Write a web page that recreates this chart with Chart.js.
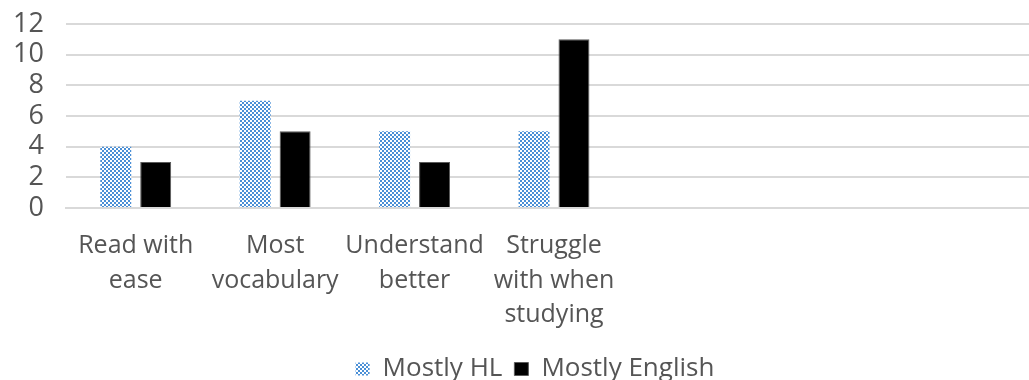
<!DOCTYPE html>
<html>
<head>
<meta charset="utf-8">
<script src="https://cdn.jsdelivr.net/npm/chart.js@4/dist/chart.umd.min.js"></script>
<style>
html, body { margin:0; padding:0; background:#fff; overflow:hidden; }
#wrap { width:1100px; height:380px; }
</style>
</head>
<body>
<div id="wrap"><canvas id="chart" width="1100" height="380"></canvas></div>
<script>
// chart data
var categories = [['Read with', 'ease'], ['Most', 'vocabulary'], ['Understand', 'better'], ['Struggle', 'with when', 'studying'], '', '', ''];
var mostlyHL = [4, 7, 5, 5, null, null, null];
var mostlyEnglish = [3, 5, 3, 11, null, null, null];
var yTicks = [0, 2, 4, 6, 8, 10, 12];

function checker(){
	var c = document.createElement('canvas');
	c.width = 4; c.height = 4;
	var g = c.getContext('2d');
	g.fillStyle = '#ffffff';
	g.fillRect(0, 0, 4, 4);
	g.fillStyle = '#4a8fd6';
	g.fillRect(0, 0, 2, 2);
	g.fillRect(2, 2, 2, 2);
	return g.createPattern(c, 'repeat');
}

// legend sits a bit right of the plot centre, like the original
var legendShift = {
	id: 'legendShift',
	afterLayout: function(chart){
		chart.legend.left += 14;
		chart.legend.right += 14;
	}
};

var font = '"Open Sans", sans-serif';
var textColor = '#555555';
var ctx = document.getElementById('chart').getContext('2d');
var hlPattern = checker();

new Chart(ctx, {
	type: 'bar',
	data: {
		labels: categories,
		datasets: [{
			label: 'Mostly HL',
			data: mostlyHL,
			backgroundColor: hlPattern,
			borderWidth: 0
		}, {
			label: 'Mostly English',
			data: mostlyEnglish,
			backgroundColor: '#000000',
			borderColor: '#5a5a5a',
			borderWidth: 1
		}]
	},
	plugins: [legendShift],
	options: {
		responsive: false,
		animation: false,
		categoryPercentage: 0.573,
		barPercentage: 0.775,
		layout: { padding: { top: 24, right: 58, left: 0, bottom: -12 } },
		plugins: {
			tooltip: { enabled: false },
			legend: {
				position: 'bottom',
				labels: {
					color: textColor,
					font: { family: font, size: 26 },
					boxWidth: 14,
					boxHeight: 13,
					padding: 12
				}
			}
		},
		scales: {
			x: {
				afterFit: function(s){ s.height = 136; },
				grid: { display: false, drawTicks: false },
				border: { color: '#d9d9d9', width: 2 },
				ticks: {
					color: textColor,
					font: { family: font, size: 25, lineHeight: 1.38 },
					maxRotation: 0,
					autoSkip: false,
					padding: 21
				}
			},
			y: {
				min: 0,
				max: 12,
				afterBuildTicks: function(s){ s.ticks = yTicks.map(function(v){ return { value: v }; }); },
				afterFit: function(s){ s.width = 66; s.paddingTop = 0; s.paddingBottom = 0; },
				grid: { color: '#d9d9d9', lineWidth: 2, drawTicks: false },
				border: { display: false },
				ticks: {
					color: textColor,
					font: { family: font, size: 27 },
					autoSkip: false,
					padding: 22
				}
			}
		}
	}
});
</script>
</body>
</html>
